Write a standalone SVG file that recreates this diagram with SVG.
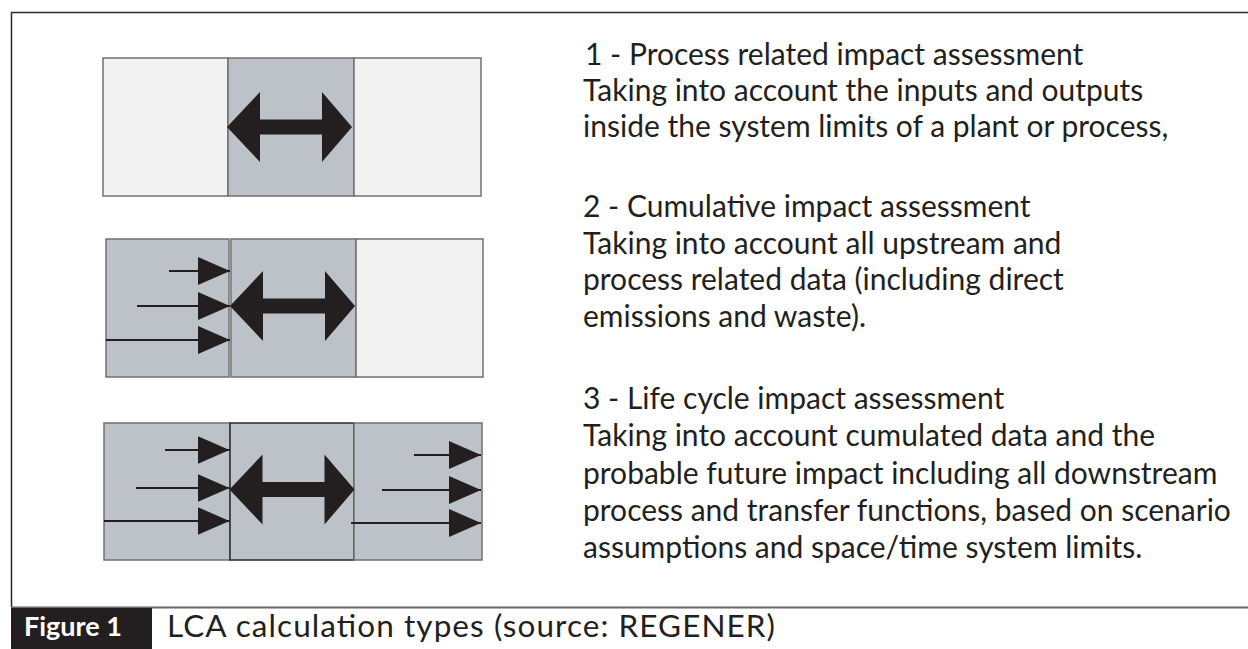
<svg xmlns="http://www.w3.org/2000/svg" width="1248" height="649" viewBox="0 0 1248 649">
<defs>
<style>
.light{fill:#f2f2f2;stroke:#707070;stroke-width:1.5}
.gray{fill:#bdc2c9;stroke:#707070;stroke-width:1.5}
.dark{stroke:#2a2a2a}
.txt{font-family:"Lato","Open Sans","Liberation Sans",sans-serif;font-size:30px;fill:#231f20}
.cap{font-family:"Lato","Open Sans","Liberation Sans",sans-serif;font-size:31.5px;fill:#231f20}
.fig{font-family:"Lato","Open Sans","Liberation Sans",sans-serif;font-size:27px;font-weight:bold;fill:#ffffff}
.flow{stroke:#231f20;stroke-width:2.2;fill:none;marker-end:url(#head)}
.dbl{fill:#231f20}
</style>
<marker id="head" markerUnits="userSpaceOnUse" markerWidth="34" markerHeight="30" refX="32" refY="14" orient="auto">
<path d="M0,0 L32,14 L0,28 Z" fill="#231f20"/>
</marker>
<path id="dblarrow" d="M0,0 L33,-35 L33,-7.5 L95,-7.5 L95,-35 L125,0 L95,35 L95,7.5 L33,7.5 L33,35 Z"/>
</defs>
<rect width="1248" height="649" fill="#ffffff"/>
<g id="frame">
<path d="M11.5,607 L11.5,12.5 L1248,12.5" fill="none" stroke="#2a2a2a" stroke-width="1.5"/>
<line x1="11" y1="607.5" x2="1248" y2="607.5" stroke="#666666" stroke-width="2"/>
</g>
<g id="row1">
<g id="r1-upstream"><rect class="light" x="103" y="58" width="125" height="138"/></g>
<g id="r1-process"><rect class="gray" x="228" y="58" width="126" height="138"/></g>
<g id="r1-downstream"><rect class="light" x="354" y="58" width="127" height="138"/></g>
</g>
<g id="row2">
<g id="r2-upstream"><rect class="gray" x="106" y="239" width="123" height="138"/></g>
<g id="r2-process"><rect class="gray" x="231" y="239" width="125" height="138"/></g>
<g id="r2-downstream"><rect class="light" x="356" y="239" width="127" height="138"/></g>
</g>
<g id="row3">
<g id="r3-upstream"><rect class="gray" x="104" y="423" width="126" height="137"/></g>
<g id="r3-process"><rect class="gray dark" x="230" y="423" width="124" height="137"/></g>
<g id="r3-downstream"><rect class="gray" x="354" y="423" width="128" height="137"/></g>
</g>
<g id="connectors">
<use href="#dblarrow" class="dbl" transform="translate(227,127)"/>
<use href="#dblarrow" class="dbl" transform="translate(230,306)"/>
<use href="#dblarrow" class="dbl" transform="translate(229.5,489.5)"/>
<line class="flow" x1="169" y1="271" x2="230" y2="271"/>
<line class="flow" x1="137" y1="306" x2="230" y2="306"/>
<line class="flow" x1="106" y1="340" x2="230" y2="340"/>
<line class="flow" x1="165" y1="450" x2="229.5" y2="450"/>
<line class="flow" x1="136" y1="488" x2="229.5" y2="488"/>
<line class="flow" x1="104" y1="521" x2="229.5" y2="521"/>
<line class="flow" x1="414" y1="455" x2="481" y2="455"/>
<line class="flow" x1="382" y1="490" x2="481" y2="490"/>
<line class="flow" x1="351" y1="523" x2="481" y2="523"/>
</g>
<g id="text1" class="txt">
<text x="585" y="65">1 - Process related impact assessment</text>
<text x="583" y="101">Taking into account the inputs and outputs</text>
<text x="583" y="137">inside the system limits of a plant or process,</text>
</g>
<g id="text2" class="txt">
<text x="583" y="217">2 - Cumulative impact assessment</text>
<text x="583" y="253.5">Taking into account all upstream and</text>
<text x="583" y="290">process related data (including direct</text>
<text x="583" y="326.5">emissions and waste).</text>
</g>
<g id="text3" class="txt">
<text x="583" y="409">3 - Life cycle impact assessment</text>
<text x="583" y="446">Taking into account cumulated data and the</text>
<text x="583" y="483.5">probable future impact including all downstream</text>
<text x="583" y="521">process and transfer functions, based on scenario</text>
<text x="583" y="558">assumptions and space/time system limits.</text>
</g>
<g id="caption">
<rect x="11" y="608" width="141" height="41" fill="#231f20"/>
<text class="fig" x="24" y="636">Figure 1</text>
<text class="cap" x="167" y="637" textLength="608" lengthAdjust="spacing">LCA calculation types (source: REGENER)</text>
</g>
</svg>
